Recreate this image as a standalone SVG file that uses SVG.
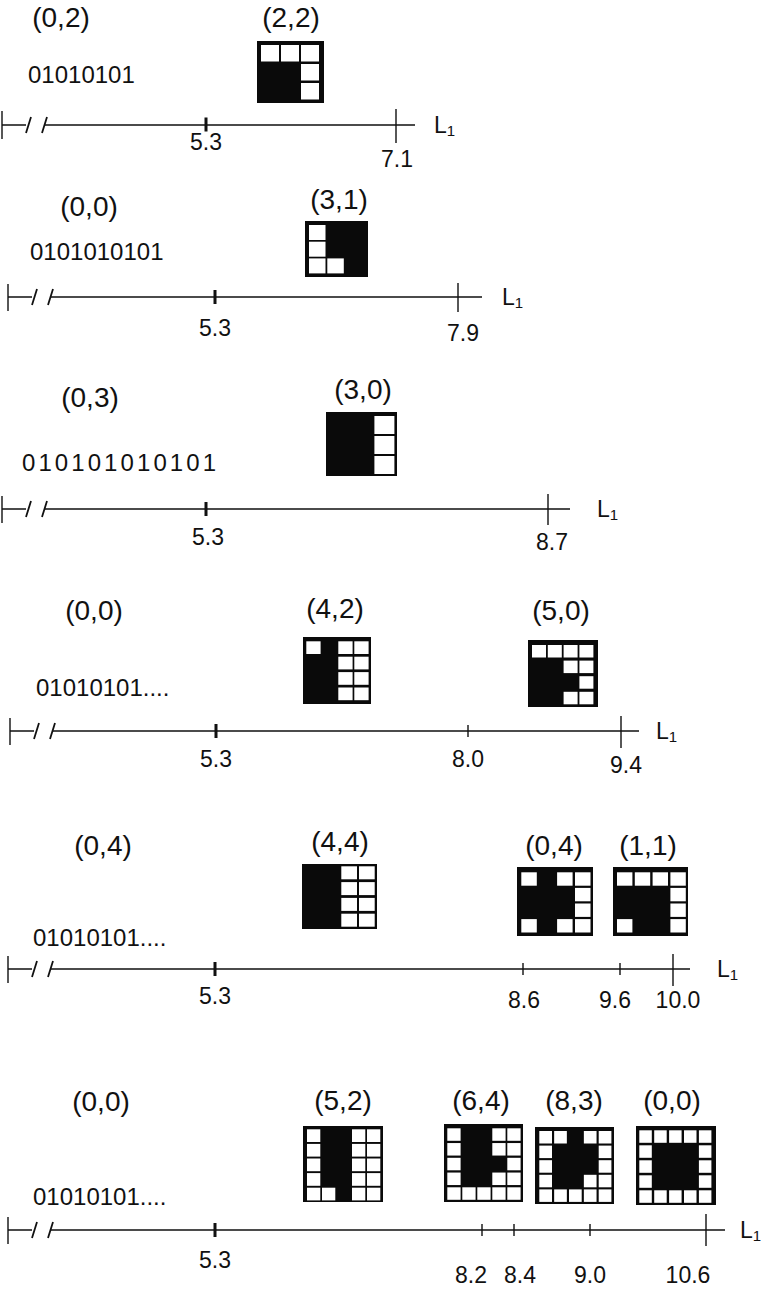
<svg xmlns="http://www.w3.org/2000/svg" width="764" height="1293" viewBox="0 0 764 1293">
<style>
.t{font-family:"Liberation Sans",Arial,Helvetica,sans-serif;fill:#111;}
.lab{font-size:28px;text-anchor:middle;}
.bin{font-size:24px;}
.num{font-size:23px;text-anchor:middle;}
.L{font-size:23px;}
.sub{font-size:15px;}
.f{fill:#0a0a0a;}
.c{fill:#fff;}
.ax{stroke:#111;stroke-width:1.4;fill:none;}
.sl{stroke:#111;stroke-width:1.8;fill:none;}
.tk{fill:#111;}
</style>
<rect width="764" height="1293" fill="#fff"/>

<!-- Row 1 -->
<g id="row1-labels" class="t">
<text class="lab" x="61" y="27">(0,2)</text>
<text class="lab" x="291" y="27">(2,2)</text>
<text class="bin" x="28" y="83">01010101</text>
</g>
<g id="grid-2-2">
<rect class="f" x="257" y="41" width="67" height="62"/>
<rect class="c" x="261" y="45" width="18" height="16.5"/>
<rect class="c" x="281" y="45" width="18" height="16.5"/>
<rect class="c" x="301" y="45" width="18" height="16.5"/>
<rect class="c" x="301" y="64" width="18" height="16.5"/>
<rect class="c" x="301" y="83" width="18" height="16.5"/>
</g>

<!-- Row 2 -->
<g id="row2-labels" class="t">
<text class="lab" x="89" y="216">(0,0)</text>
<text class="lab" x="339" y="209">(3,1)</text>
<text class="bin" x="30" y="260">0101010101</text>
</g>
<g id="grid-3-1">
<rect class="f" x="305" y="221" width="63" height="56"/>
<rect class="c" x="309" y="225" width="16.5" height="15"/>
<rect class="c" x="309" y="241.7" width="16.5" height="15"/>
<rect class="c" x="309" y="258.4" width="16.5" height="15"/>
<rect class="c" x="327.3" y="258.4" width="16.5" height="15"/>
</g>

<!-- Row 3 -->
<g id="row3-labels" class="t">
<text class="lab" x="90" y="407">(0,3)</text>
<text class="lab" x="363" y="399">(3,0)</text>
<text class="bin" x="22" y="471" textLength="194" lengthAdjust="spacing">010101010101</text>
</g>
<g id="grid-3-0">
<rect class="f" x="326" y="412" width="71" height="64"/>
<rect class="c" x="374.4" y="416" width="20" height="18"/>
<rect class="c" x="374.4" y="436" width="20" height="18"/>
<rect class="c" x="374.4" y="456" width="20" height="18"/>
</g>

<!-- Row 4 -->
<g id="row4-labels" class="t">
<text class="lab" x="94" y="620">(0,0)</text>
<text class="lab" x="335" y="618">(4,2)</text>
<text class="lab" x="561" y="620">(5,0)</text>
<text class="bin" x="36" y="696">01010101....</text>
</g>
<g id="grid-4-2">
<rect class="f" x="303" y="637" width="68" height="67"/>
<rect class="c" x="306.3" y="641.3" width="14.3" height="12.7"/>
<rect class="c" x="338.3" y="641.3" width="14.3" height="12.7"/>
<rect class="c" x="354.3" y="641.3" width="14.3" height="12.7"/>
<rect class="c" x="338.3" y="656.7" width="14.3" height="12.7"/>
<rect class="c" x="354.3" y="656.7" width="14.3" height="12.7"/>
<rect class="c" x="338.3" y="672.1" width="14.3" height="12.7"/>
<rect class="c" x="354.3" y="672.1" width="14.3" height="12.7"/>
<rect class="c" x="338.3" y="687.5" width="14.3" height="12.7"/>
<rect class="c" x="354.3" y="687.5" width="14.3" height="12.7"/>
</g>
<g id="grid-5-0">
<rect class="f" x="528" y="640" width="70" height="67"/>
<rect class="c" x="532" y="645" width="14" height="12.5"/>
<rect class="c" x="547.8" y="645" width="14" height="12.5"/>
<rect class="c" x="563.6" y="645" width="14" height="12.5"/>
<rect class="c" x="579.4" y="645" width="14" height="12.5"/>
<rect class="c" x="563.6" y="660.6" width="14" height="12.5"/>
<rect class="c" x="579.4" y="660.6" width="14" height="12.5"/>
<rect class="c" x="579.4" y="676.2" width="14" height="12.5"/>
<rect class="c" x="563.6" y="691.8" width="14" height="12.5"/>
<rect class="c" x="579.4" y="691.8" width="14" height="12.5"/>
</g>

<!-- Row 5 -->
<g id="row5-labels" class="t">
<text class="lab" x="103" y="855">(0,4)</text>
<text class="lab" x="340" y="851">(4,4)</text>
<text class="lab" x="554" y="855">(0,4)</text>
<text class="lab" x="648" y="855">(1,1)</text>
<text class="bin" x="33" y="946">01010101....</text>
</g>
<g id="grid-4-4">
<rect class="f" x="302" y="864" width="75" height="65"/>
<rect class="c" x="341.3" y="866.3" width="15.7" height="13"/>
<rect class="c" x="359" y="866.3" width="15.7" height="13"/>
<rect class="c" x="341.3" y="882.1" width="15.7" height="13"/>
<rect class="c" x="359" y="882.1" width="15.7" height="13"/>
<rect class="c" x="341.3" y="897.9" width="15.7" height="13"/>
<rect class="c" x="359" y="897.9" width="15.7" height="13"/>
<rect class="c" x="341.3" y="913.7" width="15.7" height="13"/>
<rect class="c" x="359" y="913.7" width="15.7" height="13"/>
</g>
<g id="grid-0-4">
<rect class="f" x="517" y="867" width="76" height="69"/>
<rect class="c" x="521.3" y="872.3" width="15.5" height="13.4"/>
<rect class="c" x="557.1" y="872.3" width="15.5" height="13.4"/>
<rect class="c" x="575" y="872.3" width="15.5" height="13.4"/>
<rect class="c" x="575" y="887.9" width="15.5" height="13.4"/>
<rect class="c" x="575" y="903.5" width="15.5" height="13.4"/>
<rect class="c" x="521.3" y="919.1" width="15.5" height="13.4"/>
<rect class="c" x="557.1" y="919.1" width="15.5" height="13.4"/>
<rect class="c" x="575" y="919.1" width="15.5" height="13.4"/>
</g>
<g id="grid-1-1">
<rect class="f" x="613" y="867" width="75" height="69"/>
<rect class="c" x="617" y="872.3" width="15.4" height="13.4"/>
<rect class="c" x="634.8" y="872.3" width="15.4" height="13.4"/>
<rect class="c" x="652.6" y="872.3" width="15.4" height="13.4"/>
<rect class="c" x="670.4" y="872.3" width="15.4" height="13.4"/>
<rect class="c" x="670.4" y="887.9" width="15.4" height="13.4"/>
<rect class="c" x="670.4" y="903.5" width="15.4" height="13.4"/>
<rect class="c" x="617" y="919.1" width="15.4" height="13.4"/>
<rect class="c" x="670.4" y="919.1" width="15.4" height="13.4"/>
</g>

<!-- Row 6 -->
<g id="row6-labels" class="t">
<text class="lab" x="101" y="1111">(0,0)</text>
<text class="lab" x="343" y="1110">(5,2)</text>
<text class="lab" x="481" y="1110">(6,4)</text>
<text class="lab" x="574" y="1110">(8,3)</text>
<text class="lab" x="672" y="1110">(0,0)</text>
<text class="bin" x="33" y="1205">01010101....</text>
</g>
<g id="grid-5-2">
<rect class="f" x="303" y="1126" width="80" height="76"/>
<rect class="c" x="307" y="1129.3" width="13.3" height="12.7"/>
<rect class="c" x="307" y="1143.9" width="13.3" height="12.7"/>
<rect class="c" x="307" y="1158.5" width="13.3" height="12.7"/>
<rect class="c" x="307" y="1173.1" width="13.3" height="12.7"/>
<rect class="c" x="307" y="1187.7" width="13.3" height="12.7"/>
<rect class="c" x="322" y="1187.7" width="13.3" height="12.7"/>
<rect class="c" x="352" y="1129.3" width="13.3" height="12.7"/>
<rect class="c" x="352" y="1143.9" width="13.3" height="12.7"/>
<rect class="c" x="352" y="1158.5" width="13.3" height="12.7"/>
<rect class="c" x="352" y="1173.1" width="13.3" height="12.7"/>
<rect class="c" x="352" y="1187.7" width="13.3" height="12.7"/>
<rect class="c" x="367" y="1129.3" width="13.3" height="12.7"/>
<rect class="c" x="367" y="1143.9" width="13.3" height="12.7"/>
<rect class="c" x="367" y="1158.5" width="13.3" height="12.7"/>
<rect class="c" x="367" y="1173.1" width="13.3" height="12.7"/>
<rect class="c" x="367" y="1187.7" width="13.3" height="12.7"/>
</g>
<g id="grid-6-4">
<rect class="f" x="444" y="1124" width="79" height="78"/>
<rect class="c" x="447.3" y="1128.3" width="13.3" height="12.5"/>
<rect class="c" x="492.3" y="1128.3" width="13.3" height="12.5"/>
<rect class="c" x="507.3" y="1128.3" width="13.3" height="12.5"/>
<rect class="c" x="447.3" y="1143.05" width="13.3" height="12.5"/>
<rect class="c" x="492.3" y="1143.05" width="13.3" height="12.5"/>
<rect class="c" x="507.3" y="1143.05" width="13.3" height="12.5"/>
<rect class="c" x="447.3" y="1157.8" width="13.3" height="12.5"/>
<rect class="c" x="507.3" y="1157.8" width="13.3" height="12.5"/>
<rect class="c" x="447.3" y="1172.55" width="13.3" height="12.5"/>
<rect class="c" x="492.3" y="1172.55" width="13.3" height="12.5"/>
<rect class="c" x="507.3" y="1172.55" width="13.3" height="12.5"/>
<rect class="c" x="447.3" y="1187.3" width="13.3" height="12.5"/>
<rect class="c" x="462.3" y="1187.3" width="13.3" height="12.5"/>
<rect class="c" x="477.3" y="1187.3" width="13.3" height="12.5"/>
<rect class="c" x="492.3" y="1187.3" width="13.3" height="12.5"/>
<rect class="c" x="507.3" y="1187.3" width="13.3" height="12.5"/>
</g>
<g id="grid-8-3">
<rect class="f" x="535" y="1127" width="79" height="77"/>
<rect class="c" x="539.3" y="1131" width="12.7" height="12.5"/>
<rect class="c" x="554.15" y="1131" width="12.7" height="12.5"/>
<rect class="c" x="583.85" y="1131" width="12.7" height="12.5"/>
<rect class="c" x="598.7" y="1131" width="12.7" height="12.5"/>
<rect class="c" x="539.3" y="1145.6" width="12.7" height="12.5"/>
<rect class="c" x="598.7" y="1145.6" width="12.7" height="12.5"/>
<rect class="c" x="539.3" y="1160.2" width="12.7" height="12.5"/>
<rect class="c" x="598.7" y="1160.2" width="12.7" height="12.5"/>
<rect class="c" x="539.3" y="1174.8" width="12.7" height="12.5"/>
<rect class="c" x="583.85" y="1174.8" width="12.7" height="12.5"/>
<rect class="c" x="598.7" y="1174.8" width="12.7" height="12.5"/>
<rect class="c" x="539.3" y="1189.4" width="12.7" height="12.5"/>
<rect class="c" x="554.15" y="1189.4" width="12.7" height="12.5"/>
<rect class="c" x="569" y="1189.4" width="12.7" height="12.5"/>
<rect class="c" x="583.85" y="1189.4" width="12.7" height="12.5"/>
<rect class="c" x="598.7" y="1189.4" width="12.7" height="12.5"/>
</g>
<g id="grid-0-0">
<rect class="f" x="636" y="1126" width="80" height="79"/>
<rect class="c" x="639.3" y="1130.3" width="12.5" height="12.5"/>
<rect class="c" x="654.2" y="1130.3" width="12.5" height="12.5"/>
<rect class="c" x="669.1" y="1130.3" width="12.5" height="12.5"/>
<rect class="c" x="684" y="1130.3" width="12.5" height="12.5"/>
<rect class="c" x="698.9" y="1130.3" width="12.5" height="12.5"/>
<rect class="c" x="639.3" y="1145.3" width="12.5" height="12.5"/>
<rect class="c" x="698.9" y="1145.3" width="12.5" height="12.5"/>
<rect class="c" x="639.3" y="1160.3" width="12.5" height="12.5"/>
<rect class="c" x="698.9" y="1160.3" width="12.5" height="12.5"/>
<rect class="c" x="639.3" y="1175.3" width="12.5" height="12.5"/>
<rect class="c" x="698.9" y="1175.3" width="12.5" height="12.5"/>
<rect class="c" x="639.3" y="1190.3" width="12.5" height="12.5"/>
<rect class="c" x="654.2" y="1190.3" width="12.5" height="12.5"/>
<rect class="c" x="669.1" y="1190.3" width="12.5" height="12.5"/>
<rect class="c" x="684" y="1190.3" width="12.5" height="12.5"/>
<rect class="c" x="698.9" y="1190.3" width="12.5" height="12.5"/>
</g>

<!-- Axes -->
<g id="axes">
 <g id="axis1">
  <path class="ax" d="M2,111V139M2,125H26M45,125H415M396,109V143"/>
  <path class="sl" d="M26,133L31,117M42,133L47,117"/>
  <rect class="tk" x="204.5" y="117.5" width="3" height="14"/>
 </g>
 <g id="axis2">
  <path class="ax" d="M8,284V311M8,297H32M51,297H482M458,283V312"/>
  <path class="sl" d="M32,305L37,289M48,305L53,289"/>
  <rect class="tk" x="213.5" y="290" width="3" height="14"/>
 </g>
 <g id="axis3">
  <path class="ax" d="M2,496V523M2,509H26M45,509H570M548,494V525"/>
  <path class="sl" d="M26,517L31,501M42,517L47,501"/>
  <rect class="tk" x="204.5" y="502" width="3" height="14"/>
 </g>
 <g id="axis4">
  <path class="ax" d="M10,718V745M10,731H34M53,731H639M468,725V737M621,716V748"/>
  <path class="sl" d="M34,739L39,723M50,739L55,723"/>
  <rect class="tk" x="214.5" y="724" width="3" height="14"/>
 </g>
 <g id="axis5">
  <path class="ax" d="M8,956V983M8,969H32M51,969H690M523,963V975M620,963V975M673,954V986"/>
  <path class="sl" d="M32,977L37,961M48,977L53,961"/>
  <rect class="tk" x="213.5" y="962" width="3" height="14"/>
 </g>
 <g id="axis6">
  <path class="ax" d="M8,1217V1244M8,1230H32M51,1230H725M482,1224V1236M514,1224V1236M590,1224V1236M706,1214V1246"/>
  <path class="sl" d="M32,1238L37,1222M48,1238L53,1222"/>
  <rect class="tk" x="213.5" y="1223" width="3" height="14"/>
 </g>
</g>

<!-- Axis labels -->
<g id="axis-labels" class="t">
 <text class="num" x="206" y="150">5.3</text>
 <text class="num" x="397" y="167">7.1</text>
 <text class="L" x="434" y="133">L<tspan class="sub" dy="3">1</tspan></text>

 <text class="num" x="215" y="336">5.3</text>
 <text class="num" x="463" y="341">7.9</text>
 <text class="L" x="502" y="305">L<tspan class="sub" dy="3">1</tspan></text>

 <text class="num" x="208" y="545">5.3</text>
 <text class="num" x="552" y="550">8.7</text>
 <text class="L" x="597" y="517">L<tspan class="sub" dy="3">1</tspan></text>

 <text class="num" x="216" y="767">5.3</text>
 <text class="num" x="468" y="767">8.0</text>
 <text class="num" x="626" y="773">9.4</text>
 <text class="L" x="656" y="739">L<tspan class="sub" dy="3">1</tspan></text>

 <text class="num" x="215" y="1004">5.3</text>
 <text class="num" x="524" y="1008">8.6</text>
 <text class="num" x="615" y="1008">9.6</text>
 <text class="num" x="678" y="1008">10.0</text>
 <text class="L" x="717" y="977">L<tspan class="sub" dy="3">1</tspan></text>

 <text class="num" x="215" y="1268">5.3</text>
 <text class="num" x="471" y="1283">8.2</text>
 <text class="num" x="520" y="1283">8.4</text>
 <text class="num" x="590" y="1283">9.0</text>
 <text class="num" x="688" y="1283">10.6</text>
 <text class="L" x="740" y="1238">L<tspan class="sub" dy="3">1</tspan></text>
</g>
</svg>
